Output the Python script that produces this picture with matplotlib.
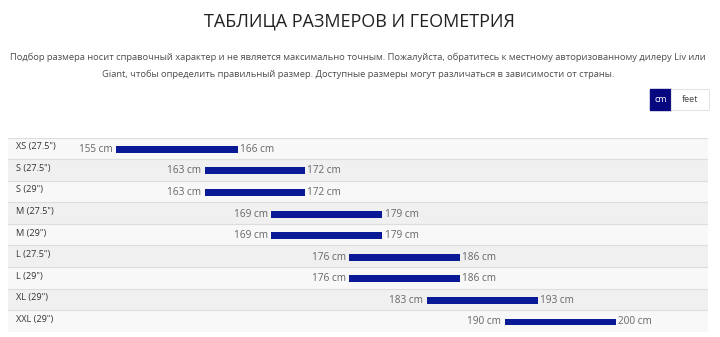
import matplotlib.pyplot as plt
from matplotlib.patches import Rectangle

plt.rcParams['font.family'] = ['Open Sans', 'DejaVu Sans']

sizes = ['XS (27.5")', 'S (27.5")', 'S (29")', 'M (27.5")', 'M (29")',
         'L (27.5")', 'L (29")', 'XL (29")', 'XXL (29")']
height_min = [155, 163, 163, 169, 169, 176, 176, 183, 190]
height_max = [166, 172, 172, 179, 179, 186, 186, 193, 200]

title = 'ТАБЛИЦА РАЗМЕРОВ И ГЕОМЕТРИЯ'
note1 = ('Подбор размера носит справочный характер и не является максимально точным. '
         'Пожалуйста, обратитесь к местному авторизованному дилеру Liv или')
note2 = 'Giant, чтобы определить правильный размер. Доступные размеры могут различаться в зависимости от страны.'

W, H = 720, 337
fig = plt.figure(figsize=(W / 100, H / 100), dpi=100)

def fx(px):
    return px / W

def fy(py):
    return 1 - py / H

fig.text(fx(359), fy(21), title, ha='center', va='center', fontsize=13, color='#222222')
fig.text(fx(358), fy(57), note1, ha='center', va='center', fontsize=6.75, color='#4d4d4d')
fig.text(fx(358), fy(74), note2, ha='center', va='center', fontsize=6.75, color='#4d4d4d')

# unit toggle
fig.patches.append(Rectangle((fx(650), fy(110)), fx(21), 21 / H, transform=fig.transFigure,
                             facecolor='#07077f', edgecolor='#07077f'))
fig.patches.append(Rectangle((fx(671), fy(110)), fx(38), 21 / H, transform=fig.transFigure,
                             facecolor='white', edgecolor='#e4e4e4', lw=0.8))
fig.text(fx(660.5), fy(99.5), 'cm', ha='center', va='center', fontsize=6.5, color='white')
fig.text(fx(690), fy(99.5), 'feet', ha='center', va='center', fontsize=6.5, color='#444444')

# table
top, bottom = 137.5, 331.7
ax = fig.add_axes([fx(8), fy(bottom), fx(700), (bottom - top) / H])
n = len(sizes)
ax.set_xlim(145.27, 208.33)
ax.set_ylim(n, 0)
ax.axis('off')

for i, lab in enumerate(sizes):
    ax.axhspan(i, i + 1, color='#f8f8f8' if i % 2 == 0 else '#f0f0f0', zorder=0, lw=0)
    ax.axhline(i, color='#dddddd', lw=0.8, zorder=1)
    ax.text(146.0, i + 0.43, lab, ha='left', va='center', fontsize=6.6, color='#333333')

ax.axhline(n, color='#dddddd', lw=0.8, zorder=1)

centers = [i + 0.55 for i in range(n)]
widths = [b - a for a, b in zip(height_min, height_max)]
ax.barh(centers, widths, left=height_min, height=0.32, color='#0a1a96', zorder=2)

for c, a, b in zip(centers, height_min, height_max):
    ax.annotate(f'{a} cm', (a, c), xytext=(-2.5, 0), textcoords='offset points',
                ha='right', va='center', fontsize=7.2, color='#666666')
    ax.annotate(f'{b} cm', (b, c), xytext=(1.5, 0), textcoords='offset points',
                ha='left', va='center', fontsize=7.2, color='#666666')

fig.savefig('out.png', dpi=100, facecolor='white')
